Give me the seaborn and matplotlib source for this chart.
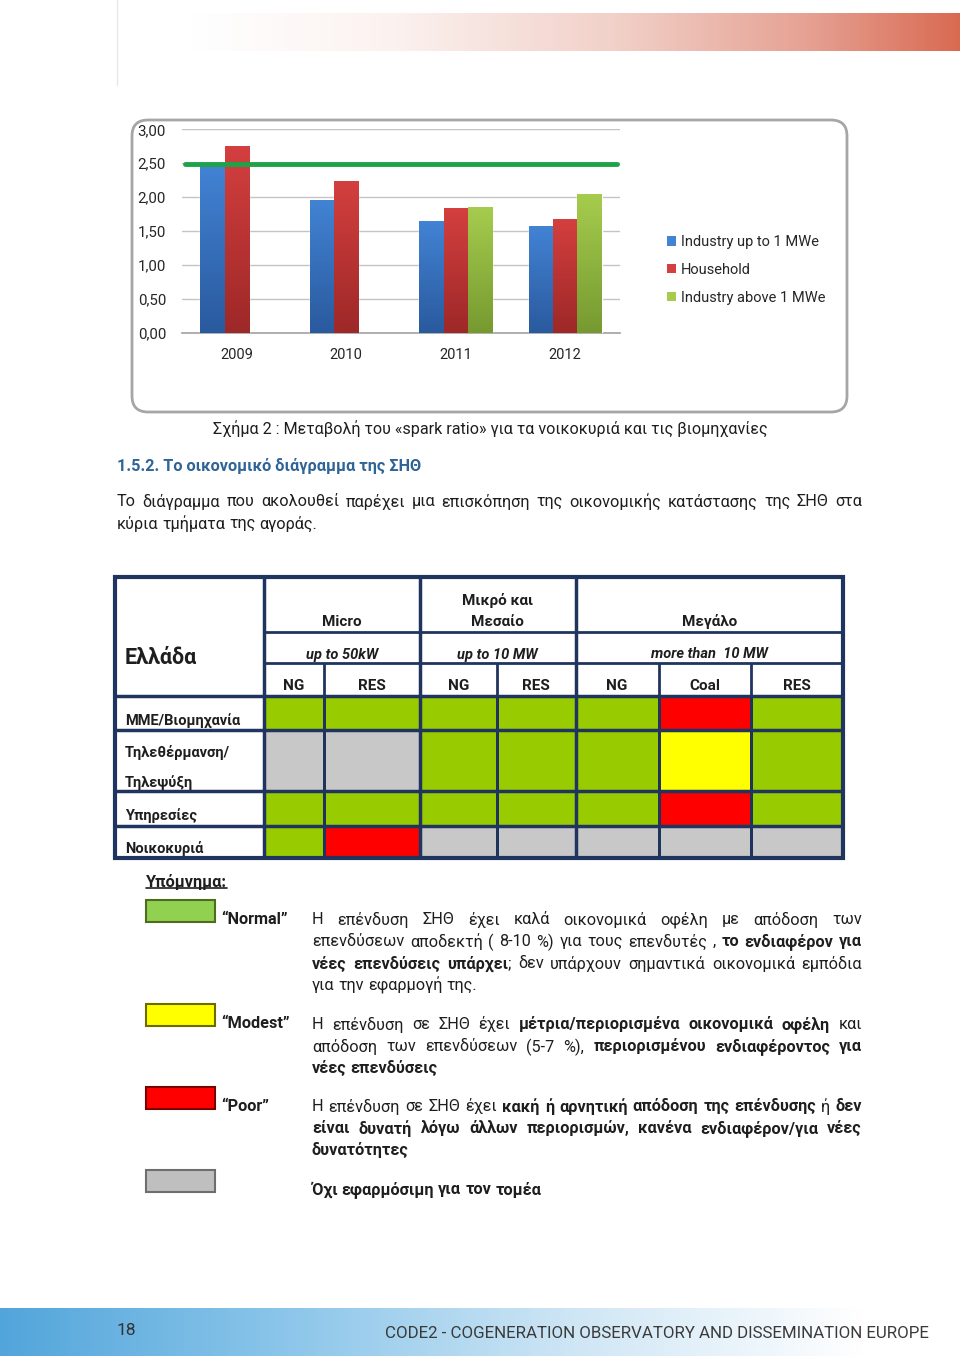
import numpy as np
import pandas as pd
import seaborn as sns
import matplotlib
matplotlib.use("Agg")
import matplotlib.pyplot as plt
from matplotlib.colors import LinearSegmentedColormap, ListedColormap
from matplotlib.patches import FancyBboxPatch, Rectangle, Patch

# ---------------- data ----------------
years = ["2009", "2010", "2011", "2012"]
series_names = ["Industry up to 1 MWe", "Household", "Industry above 1 MWe"]
industry_small = [2.48, 1.96, 1.65, 1.57]
household = [2.75, 2.245, 1.84, 1.68]
industry_large = [np.nan, np.nan, 1.86, 2.05]
reference_level = 2.49
y_ticks = [0.0, 0.5, 1.0, 1.5, 2.0, 2.5, 3.0]
y_tick_labels = ["0,00", "0,50", "1,00", "1,50", "2,00", "2,50", "3,00"]

table_rows = ["ΜΜΕ/Βιομηχανία", "Τηλεθέρμανση/\nΤηλεψύξη", "Υπηρεσίες", "Νοικοκυριά"]
table_groups = ["Micro", "Μικρό και\nΜεσαίο", "Μεγάλο"]
table_group_sizes = ["up to 50kW", "up to 10 MW", "more than  10 MW"]
table_fuels = ["NG", "RES", "NG", "RES", "NG", "Coal", "RES"]
# 0 = Normal, 1 = Modest, 2 = Poor, 3 = not applicable
table_status = [
    [0, 0, 0, 0, 0, 2, 0],
    [3, 3, 0, 0, 0, 1, 0],
    [0, 0, 0, 0, 0, 2, 0],
    [0, 2, 3, 3, 3, 3, 3],
]
status_colors = ["#99cc00", "#ffff00", "#ff0000", "#c8c8c8"]
legend_labels = ["“Normal”", "“Modest”", "“Poor”", ""]

# ---------------- style ----------------
sns.set_theme(style="white")
plt.rcParams["font.family"] = ["Roboto", "DejaVu Sans"]
TXT = "#1e1e1e"
BODY = 11.7

fig = plt.figure(figsize=(9.6, 13.56), dpi=100)
page = fig.add_axes([0, 0, 1, 1], zorder=0)
page.axis("off")
renderer = fig.canvas.get_renderer()

# decorative page bars
grad = np.linspace(0, 1, 256).reshape(1, -1)
top_cmap = LinearSegmentedColormap.from_list(
    "top", [(0, "#ffffff"), (0.25, "#fcf3f1"), (0.55, "#f1d1c9"), (0.8, "#e6a294"), (1, "#d96a52")])
page.imshow(grad, extent=[190, 960, 51, 13], cmap=top_cmap, aspect="auto", zorder=0)
bot_cmap = LinearSegmentedColormap.from_list(
    "bot", [(0, "#52a5db"), (0.3, "#8cc6ea"), (0.6, "#cfe6f5"), (0.9, "#ffffff"), (1, "#ffffff")])
page.imshow(grad, extent=[0, 960, 1356, 1308], cmap=bot_cmap, aspect="auto", zorder=0)
page.plot([117, 117], [0, 85], color="#e8e8e8", lw=1)

# chart frame
page.add_patch(FancyBboxPatch((132, 120), 715, 292, boxstyle="round,pad=0,rounding_size=16",
                              fc="white", ec="#a6a6a6", lw=2, zorder=1))

# ---------------- bar chart ----------------
ax = fig.add_axes([182 / 960, 1 - 333 / 1356, (620 - 182) / 960, (333 - 129.3) / 1356], zorder=2)
df = pd.DataFrame({
    "year": years * 3,
    "series": sum([[s] * len(years) for s in series_names], []),
    "value": industry_small + household + industry_large,
})
mid_colors = ["#3670c0", "#c03434", "#8fb83f"]
sns.barplot(data=df, x="year", y="value", hue="series", hue_order=series_names,
            palette=mid_colors, width=0.666, saturation=1, legend=False, ax=ax, zorder=3)
ax.set_facecolor("none")
ax.set_xlim(-0.5, 3.5)
ax.set_ylim(0, 3)
ax.set_yticks(y_ticks, y_tick_labels)
ax.set_xlabel("")
ax.set_ylabel("")
ax.yaxis.grid(True, color="#c4c4c4", lw=1)
ax.set_axisbelow(True)
for s in ["top", "right", "left"]:
    ax.spines[s].set_visible(False)
ax.spines["bottom"].set_color("#a6a6a6")
ax.tick_params(axis="y", length=0, pad=11.5, labelsize=10.8, labelcolor="#262626")
ax.tick_params(axis="x", length=0, pad=11, labelsize=10.5, labelcolor="#262626")

grad_pairs = {0: ("#2a5a9e", "#4283d4"), 1: ("#9e2828", "#d43f3f"), 2: ("#769a30", "#a6cc4e")}
for i, patch in enumerate(list(ax.patches)):
    h = patch.get_height()
    if not np.isfinite(h) or h <= 0:
        continue
    s_idx = i // len(years)
    cm = LinearSegmentedColormap.from_list("g", list(grad_pairs[s_idx]))
    x = patch.get_x()
    w = patch.get_width()
    im = ax.imshow(np.linspace(0, 1, 100).reshape(-1, 1), extent=[x, x + w, 0, h], origin="lower",
                   cmap=cm, aspect="auto", zorder=3.5)
    im.set_clip_path(patch)
ax.set_xlim(-0.5, 3.5)
ax.set_ylim(0, 3)
ax.axhline(reference_level, xmin=0.007, xmax=0.993, color="#1ea34a", lw=3.5, zorder=6)

handles = [Patch(facecolor=c[1], edgecolor="none") for c in grad_pairs.values()]
fig.legend(handles, series_names, loc="upper left",
           bbox_to_anchor=(654 / 960, 1 - 222 / 1356), frameon=False, fontsize=10.5,
           handlelength=0.6, handleheight=0.6, handletextpad=0.35, labelspacing=0.95,
           labelcolor="#262626")

# ---------------- text helpers ----------------
def tokenize(segs):
    words = []
    new_word = True
    for txt, w in segs:
        parts = txt.split(" ")
        for i, p in enumerate(parts):
            if i > 0:
                new_word = True
            if p == "":
                continue
            if new_word or not words:
                words.append([(p, w)])
                new_word = False
            else:
                words[-1].append((p, w))
    return words

def text_width(t):
    return t.get_window_extent(renderer).width

def draw_line(segs, x0, y, x1=None, size=BODY, color=TXT):
    words = tokenize(segs)
    items = []
    for word in words:
        pieces = []
        for txt, w in word:
            t = page.text(x0, y, txt, fontsize=size, fontweight=w, va="center_baseline",
                          ha="left", color=color, zorder=5)
            pieces.append((t, text_width(t)))
        items.append(pieces)
    widths = [sum(p[1] for p in pc) for pc in items]
    if x1 is not None and len(items) > 1:
        gap = (x1 - x0 - sum(widths)) / (len(items) - 1)
    else:
        a = page.text(0, 0, "a a", fontsize=size)
        b = page.text(0, 0, "aa", fontsize=size)
        gap = text_width(a) - text_width(b)
        a.remove(); b.remove()
    x = x0
    for pc, wd in zip(items, widths):
        for t, pw in pc:
            t.set_x(x)
            x += pw
        x += gap
    return x

N, B = "normal", "bold"

# caption, heading, paragraph
page.text(490, 427, "Σχήμα 2 : Μεταβολή του «spark ratio» για τα νοικοκυριά και τις βιομηχανίες",
          ha="center", va="center_baseline", fontsize=11.6, color=TXT)
page.text(117, 465, "1.5.2. Το οικονομικό διάγραμμα της ΣΗΘ", ha="left", va="center_baseline",
          fontsize=11.7, fontweight="bold", color="#2f6496")
draw_line([("Το διάγραμμα που ακολουθεί παρέχει μια επισκόπηση της οικονομικής κατάστασης της ΣΗΘ στα", N)],
          117, 500, 862)
draw_line([("κύρια τμήματα της αγοράς.", N)], 117, 522)

# ---------------- table ----------------
col_edges = [263.7, 324.2, 419.7, 496.8, 575.7, 658.5, 750.7, 843]
row_edges = [696, 730.2, 791.1, 825.5, 858]
tbl_left, tbl_top = 115, 577
h_line1, h_line2 = 631.5, 663.3
NAVY = "#1f3560"

page.pcolormesh(col_edges, row_edges, np.array(table_status), cmap=ListedColormap(status_colors),
                vmin=-0.5, vmax=3.5, edgecolors="#1b2744", linewidth=2, zorder=2)
page.add_patch(Rectangle((tbl_left, tbl_top), col_edges[-1] - tbl_left, row_edges[-1] - tbl_top,
                         fill=False, ec=NAVY, lw=3, zorder=4))
page.hlines([h_line1, h_line2], col_edges[0], col_edges[-1], color=NAVY, lw=2, zorder=4)
page.hlines(row_edges[:-1], tbl_left, col_edges[-1], color=NAVY, lw=2.5, zorder=4)
group_edges = [col_edges[0], col_edges[2], col_edges[4], col_edges[-1]]
page.vlines(group_edges[:-1], tbl_top, row_edges[-1], color=NAVY, lw=2.5, zorder=4)
page.vlines([col_edges[1], col_edges[3], col_edges[5], col_edges[6]], h_line2, row_edges[-1],
            color=NAVY, lw=2, zorder=4)

page.text(125, 655, "Ελλάδα", ha="left", va="center_baseline", fontsize=15.5, fontweight="bold", color=TXT)
for g, lab, sz in zip(range(3), table_groups, table_group_sizes):
    cx = (group_edges[g] + group_edges[g + 1]) / 2
    if "\n" in lab:
        l1, l2 = lab.split("\n")
        page.text(cx, 599, l1, ha="center", va="center_baseline", fontsize=11, fontweight="semibold", color=TXT)
        page.text(cx, 621, l2, ha="center", va="center_baseline", fontsize=11, fontweight="semibold", color=TXT)
    else:
        page.text(cx, 620, lab, ha="center", va="center_baseline", fontsize=11, fontweight="semibold", color=TXT)
    page.text(cx, 653, sz, ha="center", va="center_baseline", fontsize=10.5, fontweight="semibold",
              style="italic", color=TXT)
for j, f in enumerate(table_fuels):
    cx = (col_edges[j] + col_edges[j + 1]) / 2
    page.text(cx, 685, f, ha="center", va="center_baseline", fontsize=11, fontweight="semibold", color=TXT)
row_label_y = [[720], [751, 781], [814], [847]]
for lab, ys in zip(table_rows, row_label_y):
    for line, yy in zip(lab.split("\n"), ys):
        page.text(125, yy, line, ha="left", va="center_baseline", fontsize=10.5, fontweight="semibold", color=TXT)

# ---------------- legend (Υπόμνημα) ----------------
t = page.text(146, 880, "Υπόμνημα:", ha="left", va="center_baseline", fontsize=BODY, fontweight="bold", color=TXT)
page.plot([146, 146 + text_width(t)], [888, 888], color=TXT, lw=1.2)

box_y = [900, 1004, 1087, 1170]
box_edges = ["#4f6b1e", "#6b6b00", "#7a0000", "#6e6e6e"]
legend_fill = ["#92d050", "#ffff00", "#ff0000", "#bfbfbf"]
for yy, fc, ec, lab in zip(box_y, legend_fill, box_edges, legend_labels):
    page.add_patch(Rectangle((146, yy), 69, 22, fc=fc, ec=ec, lw=1.5, zorder=3))
    if lab:
        page.text(221, yy + 18, lab, ha="left", va="center_baseline", fontsize=BODY, fontweight="bold", color=TXT)

X0, X1 = 312, 862
draw_line([("Η  επένδυση ΣΗΘ έχει καλά οικονομικά οφέλη με απόδοση των", N)], X0, 918, X1)
draw_line([("επενδύσεων αποδεκτή ( 8-10 %) για τους επενδυτές , ", N), ("το ενδιαφέρον για", B)], X0, 940, X1)
draw_line([("νέες επενδύσεις υπάρχει", B), ("; δεν υπάρχουν σημαντικά οικονομικά εμπόδια", N)], X0, 962, X1)
draw_line([("για την εφαρμογή της.", N)], X0, 984)

draw_line([("Η  επένδυση σε ΣΗΘ έχει ", N), ("μέτρια/περιορισμένα οικονομικά οφέλη", B), (" και", N)], X0, 1023, X1)
draw_line([("απόδοση των επενδύσεων (5-7 %), ", N), ("περιορισμένου ενδιαφέροντος για", B)], X0, 1045, X1)
draw_line([("νέες επενδύσεις", B)], X0, 1067)

draw_line([("Η επένδυση σε ΣΗΘ  έχει ", N), ("κακή ή αρνητική απόδοση της επένδυσης", B), (" ή ", N), ("δεν", B)], X0, 1105, X1)
draw_line([("είναι δυνατή  λόγω άλλων περιορισμών, κανένα ενδιαφέρον/για νέες", B)], X0, 1127, X1)
draw_line([("δυνατότητες", B)], X0, 1149)

draw_line([("Όχι εφαρμόσιμη για τον τομέα", B)], X0, 1188)

# footer
page.text(126, 1329, "18", ha="center", va="center_baseline", fontsize=12.5, color="#333333")
page.text(385, 1332, "CODE2 - COGENERATION OBSERVATORY AND DISSEMINATION EUROPE", ha="left",
          va="center_baseline", fontsize=12.2, color="#3a3a3a")

page.set_xlim(0, 960)
page.set_ylim(1356, 0)
fig.savefig("out.png", dpi=100)
